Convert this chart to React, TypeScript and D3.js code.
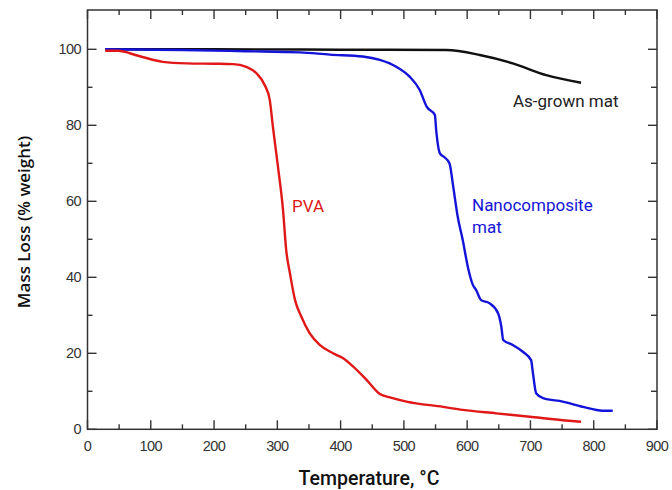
import React from "react";
import * as d3 from "d3";

const pvaT = [28, 48, 80, 119, 157, 200, 230, 251, 267, 280, 288, 293, 301, 309, 314, 320, 328, 338, 351, 367, 388, 404, 420, 441, 462, 478, 504, 562, 593, 646, 699, 751, 780];
const pvaM = [99.6, 99.6, 98.3, 96.7, 96.3, 96.2, 96.1, 95.4, 93.7, 90.6, 86.7, 79.6, 69.1, 57.7, 47.2, 41, 34, 29.6, 25.3, 22.2, 20, 18.7, 16.5, 13, 9.3, 8.4, 7.3, 5.9, 5.1, 4.2, 3.3, 2.4, 2.0];

const nanoT = [28, 150, 250, 336, 383, 435, 462, 488, 509, 525, 536, 549, 551, 557, 564, 572, 578, 585, 593, 601, 609, 614, 622, 635, 649, 654, 657, 672, 688, 701, 704, 709, 720, 751, 783, 814, 830];
const nanoM = [100, 99.8, 99.5, 99.2, 98.6, 98.1, 97.2, 95.4, 92.8, 89.3, 84.9, 82.7, 78.8, 72.6, 71.6, 70, 63.8, 56, 49.8, 42.8, 38, 36.7, 34, 33.2, 30.5, 27, 23.5, 22.2, 20.4, 18.2, 14.7, 9.5, 8.2, 7.3, 5.9, 4.9, 4.9];

const grownT = [28, 200, 400, 567, 620, 672, 725, 780];
const grownM = [100, 100, 99.9, 99.8, 98.5, 96.3, 93.2, 91.2];

const xMajor = [0, 100, 200, 300, 400, 500, 600, 700, 800, 900];
const xMinor = [50, 150, 250, 350, 450, 550, 650, 750, 850];
const yMajor = [0, 20, 40, 60, 80, 100];
const yMinor = [10, 30, 50, 70, 90];

const labels = {
  x: "Temperature, °C",
  y: "Mass Loss (% weight)",
  pva: "PVA",
  grown: "As-grown mat",
  nano1: "Nanocomposite",
  nano2: "mat",
};

export default function App() {
  const W = 672, H = 490;
  const L = 87.5, R = 657, T = 10, B = 429.3;
  const x = d3.scaleLinear().domain([0, 900]).range([L, R]);
  const y = d3.scaleLinear().domain([0, 100]).range([B, 49.3]);
  const line = d3.line<[number, number]>().x(d => x(d[0])).y(d => y(d[1])).curve(d3.curveMonotoneX);
  const zip = (a: number[], b: number[]) => a.map((v, i) => [v, b[i]] as [number, number]);
  const axisColor = "#333";
  const tickFont = "'Liberation Sans', Arial, sans-serif";
  const annFont = "Roboto, 'Noto Sans', sans-serif";
  return (
    <svg width={W} height={H} style={{ position: "absolute", left: 0, top: 0, background: "#fff" }}>
      <rect x={0} y={0} width={W} height={H} fill="#fff" />
      <rect x={L} y={T} width={R - L} height={B - T} fill="none" stroke={axisColor} strokeWidth={1.5} />
      {xMajor.map(v => (
        <g key={"xm" + v}>
          <line x1={x(v)} x2={x(v)} y1={B} y2={B - 9} stroke={axisColor} strokeWidth={1.4} />
          <line x1={x(v)} x2={x(v)} y1={T} y2={T + 9} stroke={axisColor} strokeWidth={1.4} />
          <text x={x(v)} y={451} textAnchor="middle" fontFamily={tickFont} fontSize={14.5} fill="#333" letterSpacing={-0.6}>{v}</text>
        </g>
      ))}
      {xMinor.map(v => (
        <g key={"xn" + v}>
          <line x1={x(v)} x2={x(v)} y1={B} y2={B - 5} stroke={axisColor} strokeWidth={1.4} />
          <line x1={x(v)} x2={x(v)} y1={T} y2={T + 5} stroke={axisColor} strokeWidth={1.4} />
        </g>
      ))}
      {yMajor.map(v => (
        <g key={"ym" + v}>
          <line x1={L} x2={L + 9} y1={y(v)} y2={y(v)} stroke={axisColor} strokeWidth={1.4} />
          <line x1={R} x2={R - 9} y1={y(v)} y2={y(v)} stroke={axisColor} strokeWidth={1.4} />
          <text x={81} y={y(v) + 5} textAnchor="end" fontFamily={tickFont} fontSize={14.5} fill="#333" letterSpacing={-0.6}>{v}</text>
        </g>
      ))}
      {yMinor.map(v => (
        <g key={"yn" + v}>
          <line x1={L} x2={L + 5} y1={y(v)} y2={y(v)} stroke={axisColor} strokeWidth={1.4} />
          <line x1={R} x2={R - 6} y1={y(v)} y2={y(v)} stroke={axisColor} strokeWidth={1.4} />
        </g>
      ))}
      <path d={line(zip(grownT, grownM)) || ""} fill="none" stroke="#111" strokeWidth={2.4} />
      <path d={line(zip(nanoT, nanoM)) || ""} fill="none" stroke="#1414d8" strokeWidth={2.4} />
      <path d={line(zip(pvaT, pvaM)) || ""} fill="none" stroke="#e01818" strokeWidth={2.4} />
      <text x={292} y={212} fontFamily={annFont} fontSize={17} fill="#e01818">{labels.pva}</text>
      <text x={513} y={107} fontFamily={annFont} fontSize={17} fill="#222">{labels.grown}</text>
      <text x={472} y={211} fontFamily={annFont} fontSize={17} fill="#1414d8">{labels.nano1}</text>
      <text x={472} y={233} fontFamily={annFont} fontSize={17} fill="#1414d8">{labels.nano2}</text>
      <text x={369} y={485} textAnchor="middle" fontFamily={annFont} fontSize={19.5} fontWeight={500} fill="#111">{labels.x}</text>
      <text transform={`translate(30,222) rotate(-90)`} textAnchor="middle" fontFamily="'Open Sans', sans-serif" fontSize={17} fontWeight={600} fill="#111">{labels.y}</text>
    </svg>
  );
}
